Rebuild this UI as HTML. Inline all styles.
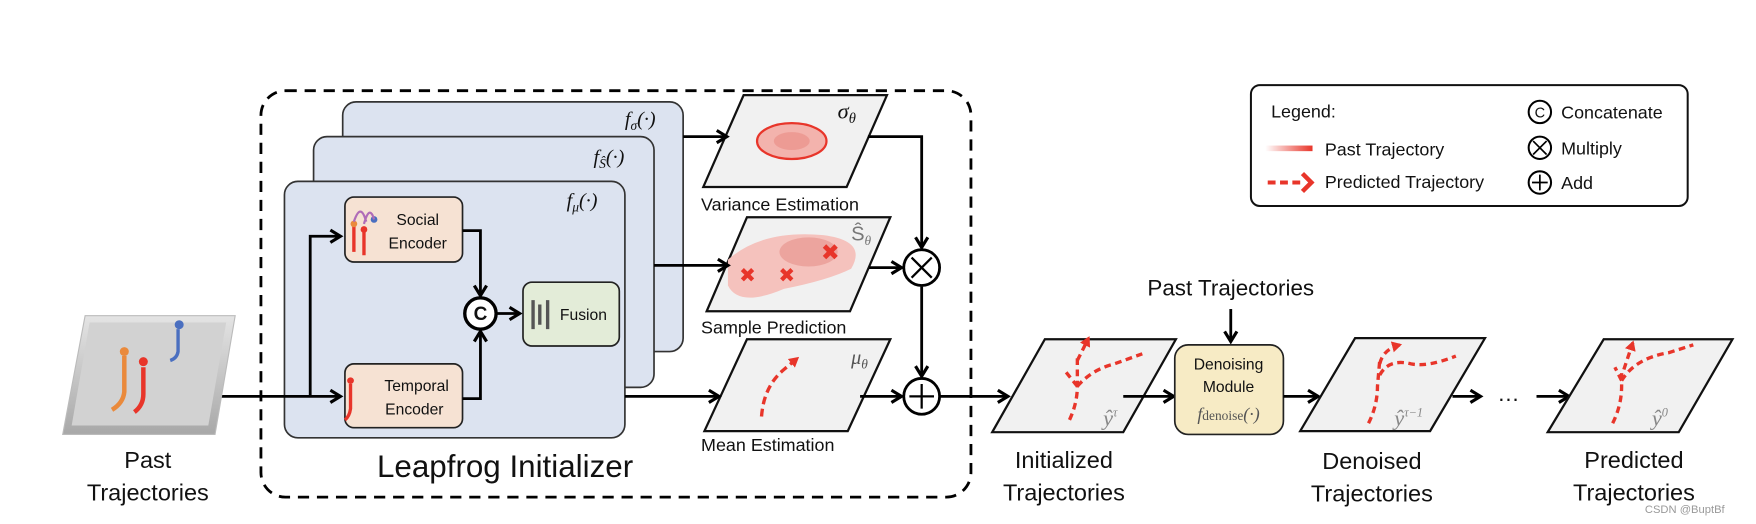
<!DOCTYPE html>
<html><head><meta charset="utf-8"><style>
html,body{margin:0;padding:0;background:#fff;}
svg{display:block;}
text{font-family:"Liberation Sans",sans-serif;fill:#111;}
.m{font-family:"Liberation Serif",serif;font-style:italic;}
</style></head><body>
<svg width="1756" height="524" viewBox="0 0 1568 468" preserveAspectRatio="none" xmlns="http://www.w3.org/2000/svg">
<defs>
<marker id="ah" markerWidth="14" markerHeight="14" refX="11" refY="7" orient="auto" markerUnits="userSpaceOnUse">
<path d="M2,1.5 L11,7 L2,12.5" fill="none" stroke="#000" stroke-width="2.8"/></marker>
<marker id="rh" markerWidth="10" markerHeight="10" refX="7" refY="5" orient="auto" markerUnits="userSpaceOnUse">
<path d="M0,0 L9,5 L0,10 Z" fill="#e8352a"/></marker>
<linearGradient id="pg" x1="0" x2="1"><stop offset="0" stop-color="#e8352a" stop-opacity="0"/><stop offset="1" stop-color="#e8352a"/></linearGradient>
<linearGradient id="tray" x1="0" y1="0" x2="0" y2="1"><stop offset="0" stop-color="#e4e4e4"/><stop offset="1" stop-color="#a8a8a8"/></linearGradient>
</defs>

<rect x="233" y="81" width="634" height="363" rx="22" fill="none" stroke="#000" stroke-width="2.5" stroke-dasharray="10,7"/>

<rect x="306" y="91" width="304" height="223" rx="12" fill="#dce3f0" stroke="#333" stroke-width="1.5"/>
<text x="558" y="112" class="m" font-size="18">f<tspan font-size="12" dy="4">σ</tspan><tspan dy="-4">(·)</tspan></text>
<rect x="280" y="122" width="304" height="224" rx="12" fill="#dce3f0" stroke="#333" stroke-width="1.5"/>
<text x="530" y="146" class="m" font-size="18">f<tspan font-size="12" dy="4">Ŝ</tspan><tspan dy="-4">(·)</tspan></text>
<rect x="254" y="162" width="304" height="229" rx="12" fill="#dce3f0" stroke="#333" stroke-width="1.5"/>
<text x="506" y="185" class="m" font-size="18">f<tspan font-size="12" dy="4">μ</tspan><tspan dy="-4">(·)</tspan></text>

<rect x="308" y="176" width="105" height="58" rx="8" fill="#f6e2d3" stroke="#222" stroke-width="1.5"/>
<text x="373" y="201" font-size="14" text-anchor="middle">Social</text>
<text x="373" y="222" font-size="14" text-anchor="middle">Encoder</text>
<path d="M316,225 L316,202 M325,228 L325,207" stroke="#e8352a" stroke-width="3"/>
<circle cx="316" cy="200" r="3" fill="#ea8a3c"/><circle cx="325" cy="205" r="3" fill="#e8352a"/><circle cx="334" cy="196" r="3" fill="#4a6fc0"/>
<path d="M316,198 Q322,180 327,198 M325,200 Q330,182 334,196" stroke="#b06cb8" stroke-width="2" fill="none"/>
<rect x="308" y="325" width="105" height="57" rx="8" fill="#f6e2d3" stroke="#222" stroke-width="1.5"/>
<text x="372" y="349" font-size="14" text-anchor="middle">Temporal</text>
<text x="370" y="370" font-size="14" text-anchor="middle">Encoder</text>
<circle cx="313" cy="340" r="3" fill="#e8352a"/><path d="M313,343 L313,365 Q312,372 308,375" stroke="#e8352a" stroke-width="3" fill="none"/>

<rect x="467" y="252" width="86" height="57" rx="8" fill="#e3ecd8" stroke="#222" stroke-width="1.5"/>
<path d="M476,268 V294 M482,272 V290 M489,268 V294" stroke="#555" stroke-width="3"/>
<text x="500" y="286" font-size="14">Fusion</text>

<circle cx="429" cy="280" r="14" fill="#fff" stroke="#000" stroke-width="3"/>
<text x="429" y="286" font-size="17" text-anchor="middle" font-weight="bold">C</text>
<path d="M444,280 H464" stroke="#000" stroke-width="2.5" marker-end="url(#ah)"/>

<path d="M190,354 H304" stroke="#000" stroke-width="2.5" marker-end="url(#ah)"/>
<path d="M277,354 V211 H304" stroke="#000" stroke-width="2.5" fill="none" marker-end="url(#ah)"/>
<path d="M413,206 H429 V264" stroke="#000" stroke-width="2.5" fill="none" marker-end="url(#ah)"/>
<path d="M413,356 H429 V296" stroke="#000" stroke-width="2.5" fill="none" marker-end="url(#ah)"/>

<polygon points="76,282 210,282 192,388 56,388" fill="url(#tray)" stroke="#bbb" stroke-width="1"/>
<polygon points="80,288 202,288 186,380 64,380" fill="#d2d2d2"/>
<path d="M111,318 L111,350 Q110,360 100,366" stroke="#ea8a3c" stroke-width="4" fill="none"/>
<circle cx="111" cy="314" r="4" fill="#ea8a3c"/>
<path d="M128,328 L128,352 Q128,362 120,368" stroke="#e8352a" stroke-width="4" fill="none"/>
<circle cx="128" cy="323" r="4" fill="#e8352a"/>
<path d="M159,294 L159,314 Q158,320 152,322" stroke="#4a6fc0" stroke-width="3" fill="none"/>
<circle cx="160" cy="290" r="4" fill="#4a6fc0"/>
<text x="132" y="418" font-size="21" text-anchor="middle">Past</text>
<text x="132" y="447" font-size="21" text-anchor="middle">Trajectories</text>
<text x="451" y="426" font-size="28" text-anchor="middle">Leapfrog Initializer</text>

<polygon points="664,85 792,85 756,167 628,167" fill="#f1f1f1" stroke="#111" stroke-width="2"/>
<ellipse cx="707" cy="126" rx="31" ry="16" fill="#f3b3ad" stroke="#e8352a" stroke-width="2"/>
<ellipse cx="707" cy="126" rx="16" ry="8" fill="#e98a83" opacity="0.6"/>
<text x="748" y="106" class="m" font-size="20">σ<tspan font-size="13" dy="4">θ</tspan></text>
<text x="626" y="188" font-size="16">Variance Estimation</text>

<polygon points="667,194 795,194 759,278 631,278" fill="#f1f1f1" stroke="#111" stroke-width="2"/>
<path d="M650,232 Q680,205 735,210 Q775,215 760,240 Q740,250 700,258 Q660,275 650,255 Z" fill="#f5c2bd"/>
<ellipse cx="722" cy="225" rx="26" ry="13" fill="#eca49e"/>
<text x="733" y="232" font-size="20" style="fill:#e8352a">✖</text>
<text x="660" y="252" font-size="18" style="fill:#e8352a">✖</text>
<text x="695" y="252" font-size="18" style="fill:#e8352a">✖</text>
<text x="760" y="215" font-size="18" style="fill:#777">Ŝ<tspan font-size="12" dy="4" class="m">θ</tspan></text>
<text x="626" y="298" font-size="16">Sample Prediction</text>

<polygon points="667,303 795,303 757,385 629,385" fill="#f1f1f1" stroke="#111" stroke-width="2"/>
<path d="M680,372 Q682,345 700,330 L712,320" stroke="#e8352a" stroke-width="3" stroke-dasharray="7,4" fill="none" marker-end="url(#rh)"/>
<text x="760" y="325" class="m" font-size="18" style="fill:#555">μ<tspan font-size="12" dy="4">θ</tspan></text>
<text x="626" y="403" font-size="16">Mean Estimation</text>

<path d="M610,122 H649" stroke="#000" stroke-width="2.5" marker-end="url(#ah)"/>
<path d="M584,237 H650" stroke="#000" stroke-width="2.5" marker-end="url(#ah)"/>
<path d="M558,354 H642" stroke="#000" stroke-width="2.5" marker-end="url(#ah)"/>
<path d="M775,122 H823 V221" stroke="#000" stroke-width="2.5" fill="none" marker-end="url(#ah)"/>
<path d="M776,239 H805" stroke="#000" stroke-width="2.5" marker-end="url(#ah)"/>
<path d="M823,256 V336" stroke="#000" stroke-width="2.5" marker-end="url(#ah)"/>
<path d="M768,354 H805" stroke="#000" stroke-width="2.5" marker-end="url(#ah)"/>
<circle cx="823" cy="239" r="16" fill="#fff" stroke="#000" stroke-width="2.5"/>
<path d="M814,230 L832,248 M832,230 L814,248" stroke="#000" stroke-width="2"/>
<circle cx="823" cy="354" r="16" fill="#fff" stroke="#000" stroke-width="2.5"/>
<path d="M823,343 V365 M812,354 H834" stroke="#000" stroke-width="2"/>
<path d="M839,354 H900" stroke="#000" stroke-width="2.5" marker-end="url(#ah)"/>

<polygon points="933,303 1050,303 1003,386 886,386" fill="#f1f1f1" stroke="#111" stroke-width="2"/>
<path d="M955,375 Q962,360 962,345 L962,320 M962,345 Q975,330 995,325 L1020,316 M962,345 L950,330" stroke="#e8352a" stroke-width="3" stroke-dasharray="6,4" fill="none"/>
<path d="M962,322 L972,302" stroke="#e8352a" stroke-width="3" stroke-dasharray="6,4" marker-end="url(#rh)"/>
<text x="985" y="380" class="m" font-size="20" style="fill:#888">ŷ<tspan font-size="11" dy="-8">τ</tspan></text>
<path d="M1003,354 H1048" stroke="#000" stroke-width="2.5" marker-end="url(#ah)"/>

<text x="1099" y="264" font-size="20" text-anchor="middle">Past Trajectories</text>
<path d="M1099,276 V305" stroke="#000" stroke-width="2.5" marker-end="url(#ah)"/>
<rect x="1049" y="308" width="97" height="80" rx="12" fill="#f7ebc5" stroke="#222" stroke-width="1.5"/>
<text x="1097" y="330" font-size="14" text-anchor="middle">Denoising</text>
<text x="1097" y="350" font-size="14" text-anchor="middle">Module</text>
<text x="1097" y="375" class="m" font-size="16" text-anchor="middle" style="fill:#555">f<tspan font-size="12" font-style="normal">denoise</tspan>(·)</text>
<path d="M1146,354 H1177" stroke="#000" stroke-width="2.5" marker-end="url(#ah)"/>

<polygon points="1210,302 1326,302 1277,385 1161,385" fill="#f1f1f1" stroke="#111" stroke-width="2"/>
<path d="M1222,378 Q1230,362 1230,345 L1232,322 M1232,335 Q1240,320 1260,325 Q1275,328 1300,318" stroke="#e8352a" stroke-width="3" stroke-dasharray="6,4" fill="none"/>
<path d="M1232,325 Q1235,312 1250,308" stroke="#e8352a" stroke-width="3" stroke-dasharray="6,4" fill="none" marker-end="url(#rh)"/>
<text x="1245" y="380" class="m" font-size="20" style="fill:#888">ŷ<tspan font-size="11" dy="-8">τ−1</tspan></text>
<path d="M1297,354 H1322" stroke="#000" stroke-width="2.5" marker-end="url(#ah)"/>
<text x="1347" y="358" font-size="20" text-anchor="middle">…</text>
<path d="M1372,354 H1401" stroke="#000" stroke-width="2.5" marker-end="url(#ah)"/>

<polygon points="1432,303 1547,303 1499,386 1382,386" fill="#f1f1f1" stroke="#111" stroke-width="2"/>
<path d="M1440,378 Q1448,362 1448,345 L1448,330 M1448,340 Q1460,320 1490,315 L1512,308 M1448,340 L1442,328" stroke="#e8352a" stroke-width="3" stroke-dasharray="6,4" fill="none"/>
<path d="M1450,330 L1458,306" stroke="#e8352a" stroke-width="3" stroke-dasharray="6,4" marker-end="url(#rh)"/>
<text x="1475" y="380" class="m" font-size="20" style="fill:#888">ŷ<tspan font-size="11" dy="-8">0</tspan></text>

<text x="950" y="418" font-size="21" text-anchor="middle">Initialized</text>
<text x="950" y="447" font-size="21" text-anchor="middle">Trajectories</text>
<text x="1225" y="419" font-size="21" text-anchor="middle">Denoised</text>
<text x="1225" y="448" font-size="21" text-anchor="middle">Trajectories</text>
<text x="1459" y="418" font-size="21" text-anchor="middle">Predicted</text>
<text x="1459" y="447" font-size="21" text-anchor="middle">Trajectories</text>
<text x="1540" y="458" font-size="10" style="fill:#999" text-anchor="end">CSDN @BuptBf</text>

<rect x="1117" y="76" width="390" height="108" rx="8" fill="#fff" stroke="#111" stroke-width="1.8"/>
<text x="1135" y="105" font-size="16">Legend:</text>
<rect x="1130" y="130" width="42" height="5" fill="url(#pg)"/>
<text x="1183" y="139" font-size="16">Past Trajectory</text>
<path d="M1132,163 H1163" stroke="#e8352a" stroke-width="3.5" stroke-dasharray="7,4"/>
<path d="M1163,155 L1171,163 L1163,171" stroke="#e8352a" stroke-width="4" fill="none"/>
<text x="1183" y="168" font-size="16">Predicted Trajectory</text>
<circle cx="1375" cy="100" r="10" fill="none" stroke="#000" stroke-width="1.8"/>
<text x="1375" y="105" font-size="13" text-anchor="middle">C</text>
<text x="1394" y="106" font-size="16">Concatenate</text>
<circle cx="1375" cy="132" r="10" fill="none" stroke="#000" stroke-width="1.8"/>
<path d="M1369,126 L1381,138 M1381,126 L1369,138" stroke="#000" stroke-width="1.5"/>
<text x="1394" y="138" font-size="16">Multiply</text>
<circle cx="1375" cy="163" r="10" fill="none" stroke="#000" stroke-width="1.8"/>
<path d="M1375,156 V170 M1368,163 H1382" stroke="#000" stroke-width="1.5"/>
<text x="1394" y="169" font-size="16">Add</text>
</svg>
</body></html>
